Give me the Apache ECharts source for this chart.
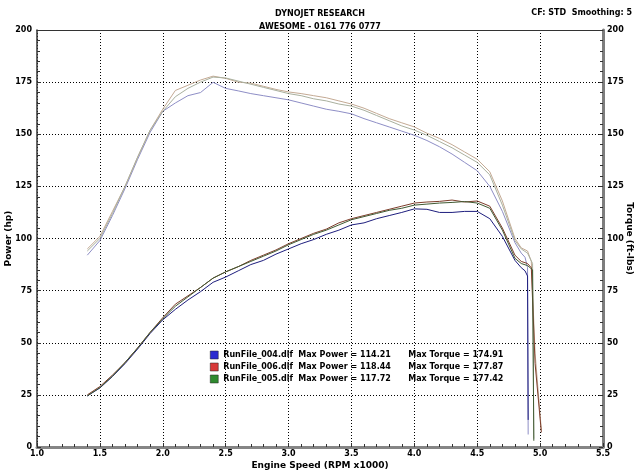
<!DOCTYPE html>
<html>
<head>
<meta charset="utf-8">
<script src="https://cdn.jsdelivr.net/npm/echarts@6/dist/echarts.min.js"></script>
<style>
  html, body { margin: 0; padding: 0; background: #fff; }
  #chart { width: 640px; height: 473px; }
</style>
</head>
<body>
<div id="chart"></div>
<script>
// engine speed (x1000 rpm) shared by all runs, then each run's own tail
const rpm = [1.4, 1.5, 1.6, 1.7, 1.8, 1.9, 2.0, 2.1, 2.2, 2.3, 2.4, 2.5, 2.6, 2.7, 2.8, 2.9,
  3.0, 3.1, 3.2, 3.3, 3.4, 3.5, 3.6, 3.7, 3.8, 3.9, 4.0, 4.1, 4.2, 4.3, 4.4, 4.5, 4.6, 4.7, 4.8]

const tailRpm004 = [4.85, 4.88, 4.9, 4.905]
const tailRpm006 = [4.85, 4.9, 4.93, 4.96, 5.01]
const tailRpm005 = [4.85, 4.9, 4.94, 4.95]

// torque (ft-lbs)
const torque004 = [92, 99, 111, 124, 138, 151, 161, 165, 168.5, 170, 174.9, 172, 170.8, 169.5, 168.5, 167.5,
  166.5, 165, 163.5, 162, 161, 159.8, 157.5, 155.5, 153.5, 151.5, 149.5, 147, 144, 140.5, 136.5, 132.5, 125, 113, 98,
  93, 91, 86, 6]
const torque006 = [95, 101, 113, 125, 139, 152, 162, 171, 173.5, 176, 177.87, 176.8, 175, 174.5, 173, 171.5,
  170.3, 169.5, 168.5, 167.5, 166, 164.5, 162.5, 160, 157.5, 155.5, 153.5, 150.5, 148, 145, 141.5, 138, 132, 118, 100,
  95.5, 94, 89, 45, 8]
const torque005 = [94, 100, 112, 125, 139, 152, 161, 168, 172, 175, 177.42, 177, 175.5, 174, 172.5, 171,
  169.5, 168.5, 167, 166, 164.5, 163.5, 161.5, 159, 156.5, 154, 152, 149.5, 146.5, 143.5, 140, 136.5, 130.5, 116, 99,
  95, 93, 88, 4]

// power (hp)
const power004 = [24.5, 28.3, 33.8, 40, 47, 54.5, 61, 66, 70.5, 74.5, 79, 81.5, 84.5, 87.5, 89.5, 92.5,
  95, 97.5, 99.5, 102, 104, 106.5, 107.5, 109.5, 111, 112.5, 114.21, 114, 112.5, 112.5, 113, 113, 109.5, 101, 89.5,
  86, 84.5, 82, 13]
const power006 = [25, 29, 34.5, 40.5, 47.5, 55, 62, 68.5, 72.5, 76.5, 81, 84, 86.5, 89.5, 92, 94.5,
  97.5, 100, 102.5, 104.5, 107.5, 109.5, 111, 112.5, 114, 115.5, 117, 117.5, 117.8, 118.44, 117.5, 118, 115.5, 105, 92,
  89, 88, 86, 40, 7]
const power005 = [24.5, 28.5, 34, 40.5, 47.5, 55, 61.5, 67.5, 72, 76.5, 81, 84, 86.5, 89, 91.5, 94,
  97, 99.5, 102, 104, 106.5, 109, 110.5, 112, 113.5, 114.5, 116, 116.5, 117, 117.3, 117.72, 117, 114.5, 104, 90.5,
  88, 87, 85, 3]

const runNames = ['RunFile_004.dlf', 'RunFile_006.dlf', 'RunFile_005.dlf']
const maxPower = [114.21, 118.44, 117.72]
const maxTorque = [174.91, 177.87, 177.42]

const FONT = "'DejaVu Sans', Verdana, sans-serif"

function pairs(tail, values) {
  return rpm.concat(tail).map((r, i) => [r, values[i]])
}

function line(name, color, data, yAxisIndex) {
  return {
    name: name,
    type: 'line',
    yAxisIndex: yAxisIndex,
    showSymbol: false,
    symbol: 'none',
    animation: false,
    color: color,
    lineStyle: { color: color, width: 1 },
    data: data
  }
}

const labelStyle = { fontFamily: FONT, fontWeight: 'bold', fontSize: 8, color: '#000' }
const nameStyle = { fontFamily: FONT, fontWeight: 'bold', fontSize: 9, color: '#000' }
const gridDots = { show: true, lineStyle: { color: '#000', type: [1, 2], width: 1 } }

const chart = echarts.init(document.getElementById('chart'))

const option = {
  backgroundColor: '#fff',
  animation: false,
  title: [
    {
      text: 'DYNOJET RESEARCH\nAWESOME - 0161 776 0777',
      left: 'center',
      top: 2,
      textStyle: { fontFamily: FONT, fontWeight: 'bold', fontSize: 8, color: '#000', lineHeight: 13 }
    },
    {
      text: 'CF: STD  Smoothing: 5',
      right: 3,
      top: 2,
      textStyle: { fontFamily: FONT, fontWeight: 'bold', fontSize: 8, color: '#000', lineHeight: 11 }
    }
  ],
  grid: { left: 37, right: 37, top: 30, bottom: 26, containLabel: false, outerBoundsMode: 'none' },
  legend: {
    orient: 'vertical',
    left: 205,
    top: 345,
    icon: 'rect',
    itemWidth: 8,
    itemHeight: 8,
    itemGap: 2,
    selectedMode: false,
    data: [
      { name: runNames[0], itemStyle: { color: '#2b2bd0', borderColor: '#222', borderWidth: 0.5 } },
      { name: runNames[1], itemStyle: { color: '#d83a3a', borderColor: '#222', borderWidth: 0.5 } },
      { name: runNames[2], itemStyle: { color: '#2f8a2f', borderColor: '#222', borderWidth: 0.5 } }
    ],
    formatter: function (name) {
      const i = runNames.indexOf(name)
      return '{n|' + name + '}{p|Max Power = ' + maxPower[i].toFixed(2) + '}{t|Max Torque = ' + maxTorque[i].toFixed(2) + '}'
    },
    textStyle: {
      fontFamily: FONT, fontWeight: 'bold', fontSize: 8, color: '#000', lineHeight: 10,
      rich: {
        n: { fontFamily: FONT, fontWeight: 'bold', fontSize: 8, color: '#000', width: 75 },
        p: { fontFamily: FONT, fontWeight: 'bold', fontSize: 8, color: '#000', width: 110 },
        t: { fontFamily: FONT, fontWeight: 'bold', fontSize: 8, color: '#000' }
      }
    }
  },
  xAxis: [
    {
      type: 'value',
      position: 'bottom',
      min: 1,
      max: 5.5,
      interval: 0.5,
      name: 'Engine Speed (RPM x1000)',
      nameLocation: 'middle',
      nameGap: 14,
      nameMoveOverlap: false,
      nameTextStyle: nameStyle,
      axisLine: { show: true, onZero: false, lineStyle: { color: '#858585', width: 3 } },
      axisTick: { show: true, inside: true, length: 4, lineStyle: { color: '#333' } },
      minorTick: { show: true, splitNumber: 5, length: 3, lineStyle: { color: '#333' } },
      axisLabel: Object.assign({ margin: 3, formatter: v => v.toFixed(1) }, labelStyle),
      splitLine: gridDots
    },
    {
      type: 'value',
      position: 'top',
      min: 1,
      max: 5.5,
      interval: 0.5,
      axisLine: { show: true, onZero: false, lineStyle: { color: '#333', width: 1 } },
      axisTick: { show: false },
      axisLabel: { show: false },
      splitLine: { show: false }
    }
  ],
  yAxis: [
    {
      type: 'value',
      position: 'left',
      min: 0,
      max: 200,
      interval: 25,
      name: 'Power (hp)',
      nameLocation: 'middle',
      nameGap: 24,
      nameMoveOverlap: false,
      nameTextStyle: nameStyle,
      axisLine: { show: true, onZero: false, lineStyle: { color: '#333', width: 1.5 } },
      axisTick: { show: true, inside: true, length: 4, lineStyle: { color: '#333' } },
      minorTick: { show: true, splitNumber: 5, length: 3, lineStyle: { color: '#333' } },
      axisLabel: Object.assign({ margin: 5 }, labelStyle),
      splitLine: gridDots
    },
    {
      type: 'value',
      position: 'right',
      min: 0,
      max: 200,
      interval: 25,
      name: 'Torque (ft-lbs)',
      nameLocation: 'middle',
      nameRotate: -90,
      nameGap: 22,
      nameMoveOverlap: false,
      nameTextStyle: nameStyle,
      axisLine: { show: true, onZero: false, lineStyle: { color: '#7d7d7d', width: 3 } },
      axisTick: { show: true, inside: true, length: 4, lineStyle: { color: '#333' } },
      minorTick: { show: true, splitNumber: 5, length: 3, lineStyle: { color: '#333' } },
      axisLabel: Object.assign({ margin: 4 }, labelStyle),
      splitLine: { show: false }
    }
  ],
  series: [
    line(runNames[0], '#8e8ec6', pairs(tailRpm004, torque004), 1),
    line(runNames[1], '#c4aa94', pairs(tailRpm006, torque006), 1),
    line(runNames[2], '#a9b09e', pairs(tailRpm005, torque005), 1),
    line(runNames[0], '#1e1e7e', pairs(tailRpm004, power004), 0),
    line(runNames[1], '#7e3e2c', pairs(tailRpm006, power006), 0),
    line(runNames[2], '#405a32', pairs(tailRpm005, power005), 0)
  ]
}

chart.setOption(option)
</script>
</body>
</html>
